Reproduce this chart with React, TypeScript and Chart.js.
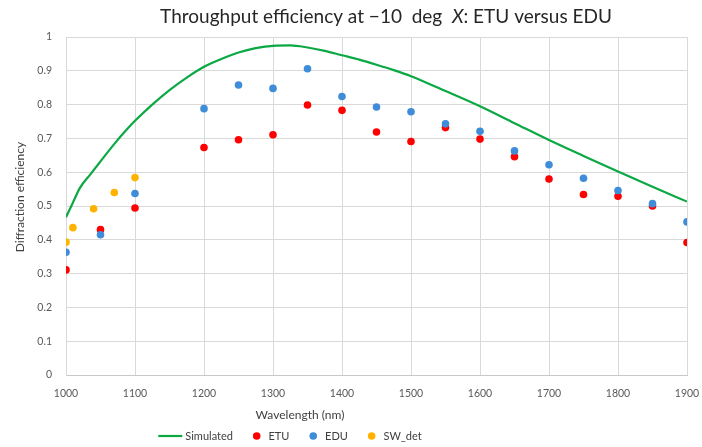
import React, { useEffect, useRef } from 'react';
import { Chart, registerables } from 'chart.js';

Chart.register(...registerables);

const TITLE_PART_A = 'Throughput efficiency at \u221210  deg  ';
const TITLE_ITALIC = 'X';
const TITLE_PART_B = ': ETU versus EDU';
const X_TITLE = 'Wavelength (nm)';
const Y_TITLE = 'Diffraction efficiency';

const simWavelengths = [1000, 1010, 1020, 1035, 1050, 1071, 1088, 1100, 1125, 1150, 1175, 1200, 1225, 1250, 1275, 1300, 1325, 1350, 1375, 1400, 1425, 1450, 1475, 1500, 1550, 1600, 1650, 1700, 1750, 1800, 1850, 1900];
const simValues = [0.467, 0.51, 0.553, 0.593, 0.632, 0.686, 0.726, 0.752, 0.80, 0.843, 0.88, 0.912, 0.935, 0.954, 0.967, 0.974, 0.975, 0.969, 0.959, 0.946, 0.933, 0.918, 0.902, 0.884, 0.840, 0.795, 0.745, 0.695, 0.648, 0.602, 0.557, 0.513];

const measWavelengths = [1000, 1050, 1100, 1200, 1250, 1300, 1350, 1400, 1450, 1500, 1550, 1600, 1650, 1700, 1750, 1800, 1850, 1900];
const etuValues = [0.311, 0.430, 0.494, 0.673, 0.696, 0.711, 0.799, 0.783, 0.719, 0.691, 0.732, 0.698, 0.646, 0.580, 0.534, 0.529, 0.500, 0.392];
const eduValues = [0.363, 0.415, 0.537, 0.788, 0.858, 0.848, 0.906, 0.824, 0.793, 0.779, 0.743, 0.721, 0.663, 0.622, 0.582, 0.546, 0.507, 0.453];

const swWavelengths = [1000, 1010, 1040, 1070, 1100];
const swValues = [0.393, 0.436, 0.492, 0.540, 0.584];

const GREEN = '#0BA844';
const RED = '#FF0000';
const BLUE = '#3F8CD8';
const GOLD = '#FFB300';
const FONT = "Lato, 'Open Sans', sans-serif";

const fmt = (v: any) => String(Math.round(Number(v) * 100) / 100);

const overlayPlugin = {
  id: 'overlayText',
  beforeDraw(chart: any) {
    const ctx = chart.ctx;
    ctx.save();
    ctx.fillStyle = '#ffffff';
    ctx.fillRect(0, 0, chart.width, chart.height);
    ctx.restore();
  },
  afterDraw(chart: any) {
    const ctx = chart.ctx as CanvasRenderingContext2D;
    ctx.save();
    // Title
    const tSize = 19;
    ctx.textBaseline = 'middle';
    ctx.textAlign = 'left';
    ctx.fillStyle = '#262626';
    ctx.font = `${tSize}px ${FONT}`;
    const wA = ctx.measureText(TITLE_PART_A).width;
    const wB = ctx.measureText(TITLE_PART_B).width;
    ctx.font = `italic ${tSize}px ${FONT}`;
    const wX = ctx.measureText(TITLE_ITALIC).width;
    let tx = 386 - (wA + wX + wB) / 2;
    const ty = 17;
    ctx.font = `${tSize}px ${FONT}`;
    ctx.fillText(TITLE_PART_A, tx, ty);
    tx += wA;
    ctx.font = `italic ${tSize}px ${FONT}`;
    ctx.fillText(TITLE_ITALIC, tx, ty);
    tx += wX;
    ctx.font = `${tSize}px ${FONT}`;
    ctx.fillText(TITLE_PART_B, tx, ty);

    // Axis titles
    ctx.fillStyle = '#404040';
    ctx.font = `12px ${FONT}`;
    ctx.textAlign = 'center';
    ctx.fillText(X_TITLE, 300, 415);
    ctx.save();
    ctx.translate(20, 197);
    ctx.rotate(-Math.PI / 2);
    ctx.fillText(Y_TITLE, 0, 0);
    ctx.restore();

    // Legend
    const ly = 436;
    ctx.font = `11px ${FONT}`;
    ctx.textAlign = 'left';
    const items = chart.data.datasets.map((ds: any) => ({
      label: ds.label,
      color: ds.borderColor,
      isLine: !!ds.showLine,
    }));
    const lineW = 24;
    const dotR = 3.8;
    const markerGap = 8;
    const itemGap = 20;
    const widths = items.map((it: any) => {
      const m = it.isLine ? lineW : dotR * 2;
      const g = it.isLine ? 3 : markerGap;
      return m + g + ctx.measureText(it.label).width;
    });
    const total = widths.reduce((a: number, b: number) => a + b, 0) + itemGap * (items.length - 1);
    let lx = 290 - total / 2;
    items.forEach((it: any, i: number) => {
      if (it.isLine) {
        ctx.strokeStyle = it.color;
        ctx.lineWidth = 2.2;
        ctx.beginPath();
        ctx.moveTo(lx, ly);
        ctx.lineTo(lx + lineW, ly);
        ctx.stroke();
        ctx.fillStyle = '#404040';
        ctx.fillText(it.label, lx + lineW + 3, ly);
      } else {
        ctx.fillStyle = it.color;
        ctx.beginPath();
        ctx.arc(lx + dotR, ly, dotR, 0, Math.PI * 2);
        ctx.fill();
        ctx.fillStyle = '#404040';
        ctx.fillText(it.label, lx + dotR * 2 + markerGap, ly);
      }
      lx += widths[i] + itemGap;
    });
    ctx.restore();
  },
};

export default function App() {
  const ref = useRef<HTMLCanvasElement>(null);
  useEffect(() => {
    const canvas = ref.current!;
    const chart = new Chart(canvas, {
      type: 'scatter',
      data: {
        datasets: [
          {
            label: 'Simulated',
            data: simWavelengths.map((x, i) => ({ x, y: simValues[i] })),
            showLine: true,
            borderColor: GREEN,
            backgroundColor: GREEN,
            borderWidth: 2.2,
            pointRadius: 0,
            cubicInterpolationMode: 'monotone',
            order: 3,
          },
          {
            label: 'ETU',
            data: measWavelengths.map((x, i) => ({ x, y: etuValues[i] })),
            borderColor: RED,
            backgroundColor: RED,
            pointRadius: 3.8,
            pointBorderWidth: 0,
            order: 2,
          },
          {
            label: 'EDU',
            data: measWavelengths.map((x, i) => ({ x, y: eduValues[i] })),
            borderColor: BLUE,
            backgroundColor: BLUE,
            pointRadius: 3.8,
            pointBorderWidth: 0,
            order: 1,
          },
          {
            label: 'SW_det',
            data: swWavelengths.map((x, i) => ({ x, y: swValues[i] })),
            borderColor: GOLD,
            backgroundColor: GOLD,
            pointRadius: 3.8,
            pointBorderWidth: 0,
            order: 0,
          },
        ],
      } as any,
      options: {
        responsive: false,
        animation: false,
        devicePixelRatio: 1,
        layout: { padding: { top: 37, right: 15, bottom: 0, left: 0 } },
        plugins: {
          legend: { display: false },
          title: { display: false },
          tooltip: { enabled: false },
        },
        scales: {
          x: {
            type: 'linear',
            min: 1000,
            max: 1900,
            afterFit: (s: any) => { s.height = 72; s.paddingLeft = 0; s.paddingRight = 0; },
            ticks: {
              stepSize: 100,
              color: '#595959',
              font: { family: FONT, size: 10.5 },
              padding: 12,
              maxRotation: 0,
              callback: fmt,
            },
            grid: { color: '#d9d9d9', lineWidth: 1, drawTicks: false },
            border: { color: '#c8c8c8' },
          },
          y: {
            type: 'linear',
            min: 0,
            max: 1,
            afterFit: (s: any) => { s.width = 66; s.paddingTop = 0; s.paddingBottom = 0; },
            ticks: {
              stepSize: 0.1,
              color: '#595959',
              font: { family: FONT, size: 10.5 },
              padding: 14,
              callback: fmt,
            },
            grid: { color: '#d9d9d9', lineWidth: 1, drawTicks: false },
            border: { color: '#d9d9d9' },
          },
        },
      } as any,
      plugins: [overlayPlugin],
    });
    return () => chart.destroy();
  }, []);
  return (
    <div style={{ position: 'fixed', left: 0, top: 0, width: 702, height: 447, background: '#fff' }}>
      <canvas ref={ref} width={702} height={447} style={{ display: 'block', width: 702, height: 447 }} />
    </div>
  );
}
